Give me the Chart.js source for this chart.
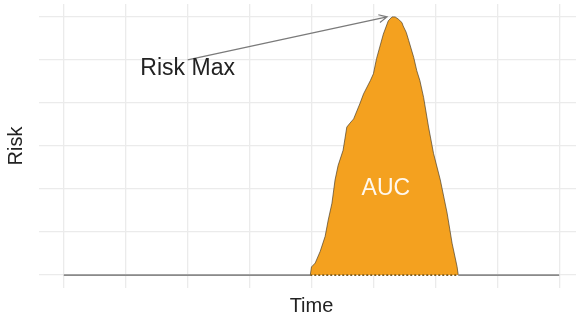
<!DOCTYPE html>
<html>
<head>
<meta charset="utf-8">
<script src="https://cdn.jsdelivr.net/npm/chart.js@4"></script>
<style>
  html, body { margin: 0; padding: 0; overflow: hidden; background: #fff; }
  #wrap { width: 584px; height: 323px; }
</style>
</head>
<body>
<div id="wrap"><canvas id="riskChart"></canvas></div>
<script>
// ====== DATA ======
// risk curve (only the part above zero)
const timeVals = [3.98, 4.00, 4.06, 4.14, 4.22, 4.27, 4.33, 4.38, 4.43, 4.51, 4.57, 4.62, 4.68,
  4.78, 4.84, 4.95, 5.00, 5.05, 5.16, 5.24, 5.30, 5.35, 5.40, 5.46, 5.48, 5.53, 5.57,
  5.65, 5.70, 5.75, 5.81, 5.89, 5.97, 6.08, 6.19, 6.27, 6.35, 6.37];
const riskVals = [0, 0.19, 0.28, 0.55, 0.90, 1.28, 1.67, 2.21, 2.55, 2.90, 3.44, 3.53, 3.63,
  3.98, 4.21, 4.52, 4.68, 5.03, 5.60, 5.91, 6.00, 6.00, 5.95, 5.87, 5.79, 5.64, 5.45,
  5.06, 4.75, 4.52, 4.13, 3.44, 2.83, 2.21, 1.44, 0.74, 0.20, 0];

// zero line over the whole time range
const baseTime = [0, 3.98, 6.37, 8];
const baseRisk = [0, 0, 0, 0];

// grid positions (no labels shown)
const xTicks = [0, 1, 2, 3, 4, 5, 6, 7, 8];
const yTicks = [0, 1, 2, 3, 4, 5, 6];

// ====== ANNOTATIONS (data coords) ======
const notes = {
  maxLabel: { x: 2.0, y: 4.8, text: 'Risk Max' },
  arrowFrom: { x: 2.0, y: 5.0 },
  arrowTo:   { x: 5.22, y: 6.0 },
  aucLabel:  { x: 5.2, y: 2.0, text: 'AUC' }
};

const curve = timeVals.map((t, i) => ({ x: t, y: riskVals[i] }));
const base = baseTime.map((t, i) => ({ x: t, y: baseRisk[i] }));

// plugin sederhana untuk teks + panah
const notePlugin = {
  id: 'notes',
  afterDatasetsDraw(chart) {
    const { ctx, scales: { x, y } } = chart;
    ctx.save();
    // panah
    const x1 = x.getPixelForValue(notes.arrowFrom.x), y1 = y.getPixelForValue(notes.arrowFrom.y);
    const x2 = x.getPixelForValue(notes.arrowTo.x),   y2 = y.getPixelForValue(notes.arrowTo.y);
    ctx.strokeStyle = '#7a7a7a';
    ctx.lineWidth = 1.2;
    ctx.beginPath();
    ctx.moveTo(x1, y1);
    ctx.lineTo(x2, y2);
    const ang = Math.atan2(y2 - y1, x2 - x1);
    const len = 9;
    ctx.moveTo(x2 - len * Math.cos(ang - 0.45), y2 - len * Math.sin(ang - 0.45));
    ctx.lineTo(x2, y2);
    ctx.lineTo(x2 - len * Math.cos(ang + 0.45), y2 - len * Math.sin(ang + 0.45));
    ctx.stroke();

    // teks
    ctx.textAlign = 'center';
    ctx.textBaseline = 'middle';
    ctx.font = '23px "Liberation Sans", Arial, sans-serif';
    ctx.fillStyle = '#222';
    ctx.fillText(notes.maxLabel.text, x.getPixelForValue(notes.maxLabel.x), y.getPixelForValue(notes.maxLabel.y));
    ctx.fillStyle = 'rgba(255,255,255,0.92)';
    ctx.fillText(notes.aucLabel.text, x.getPixelForValue(notes.aucLabel.x), y.getPixelForValue(notes.aucLabel.y));
    ctx.restore();
  }
};

const ctx = document.getElementById('riskChart').getContext('2d');
new Chart(ctx, {
  type: 'line',
  data: {
    datasets: [
      {
        data: base,
        borderColor: '#8a8a8a',
        borderWidth: 1.6,
        pointRadius: 0,
        fill: false,
        order: 1,
        segment: {
          borderDash: c => (c.p0.parsed.x >= 3.98 && c.p1.parsed.x <= 6.37) ? [2, 2] : undefined,
          borderColor: c => (c.p0.parsed.x >= 3.98 && c.p1.parsed.x <= 6.37) ? '#7a5a20' : undefined
        }
      },
      {
        data: curve,
        borderColor: 'rgba(70,60,40,0.75)',
        borderWidth: 0.9,
        backgroundColor: '#F4A11F',
        pointRadius: 0,
        fill: 'origin',
        tension: 0,
        order: 2
      }
    ]
  },
  options: {
    responsive: true,
    maintainAspectRatio: false,
    animation: false,
    layout: { padding: { top: 4, left: 0, right: 0, bottom: 0 } },
    plugins: {
      legend: { display: false },
      tooltip: { enabled: false }
    },
    scales: {
      x: {
        type: 'linear',
        min: -0.4,
        max: 8.4,
        afterBuildTicks: s => { s.ticks = xTicks.map(v => ({ value: v })); },
        ticks: { display: false },
        grid: { color: '#ebebeb', lineWidth: 1.3, drawTicks: false },
        border: { display: false },
        title: {
          display: true,
          text: 'Time',
          color: '#222',
          font: { family: '"Liberation Sans", Arial, sans-serif', size: 20 },
          padding: { top: 6, bottom: 5 }
        }
      },
      y: {
        type: 'linear',
        min: -0.3,
        max: 6.3,
        afterBuildTicks: s => { s.ticks = yTicks.map(v => ({ value: v })); },
        ticks: { display: false },
        grid: { color: '#ebebeb', lineWidth: 1.3, drawTicks: false },
        border: { display: false },
        title: {
          display: true,
          text: 'Risk',
          color: '#222',
          font: { family: '"Liberation Sans", Arial, sans-serif', size: 20 },
          padding: { top: 4, bottom: 11 }
        }
      }
    }
  },
  plugins: [notePlugin]
});
</script>
</body>
</html>
